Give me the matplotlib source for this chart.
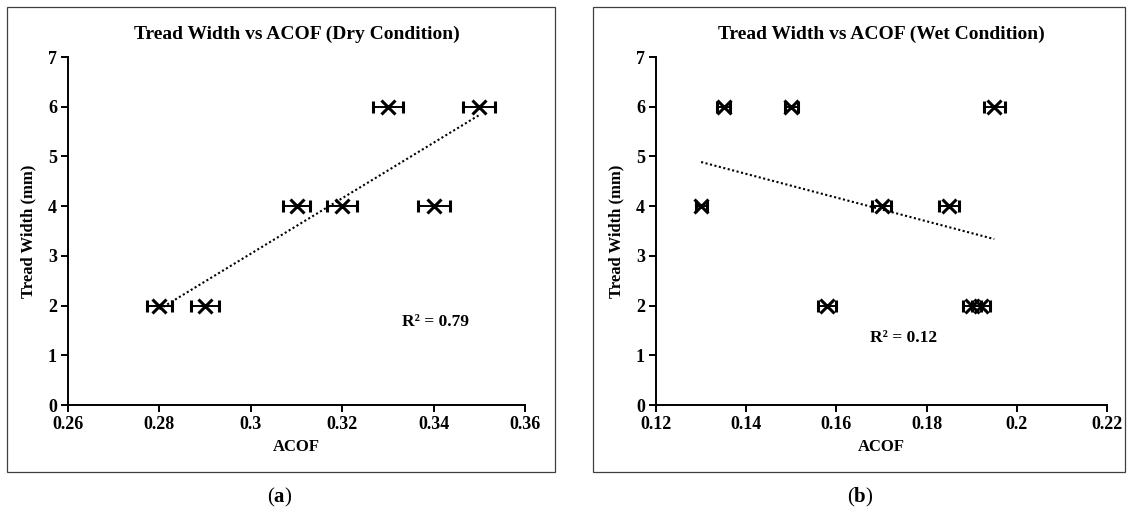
import numpy as np
import matplotlib
matplotlib.use("Agg")
import matplotlib.pyplot as plt
from matplotlib.patches import Rectangle

plt.rcParams['font.family'] = ['Liberation Serif', 'DejaVu Serif']
plt.rcParams['font.weight'] = 'bold'
plt.rcParams['mathtext.fontset'] = 'custom'
plt.rcParams['mathtext.bf'] = 'Liberation Serif:bold'
plt.rcParams['mathtext.rm'] = 'Liberation Serif'

# dry condition
dry_acof = [0.28, 0.29, 0.31, 0.32, 0.34, 0.33, 0.35]
dry_width = [2, 2, 4, 4, 4, 6, 6]
dry_err = [0.0028, 0.003, 0.003, 0.0033, 0.0035, 0.0033, 0.0035]
dry_r2 = "R² = 0.79"

# wet condition
wet_acof = [0.135, 0.15, 0.195, 0.13, 0.17, 0.185, 0.158, 0.19, 0.192]
wet_width = [6, 6, 6, 4, 4, 4, 2, 2, 2]
wet_err = [0.0015, 0.0015, 0.0023, 0.0012, 0.002, 0.0022, 0.002, 0.002, 0.002]
wet_r2 = "R² = 0.12"

dry_xticks = [0.26, 0.28, 0.30, 0.32, 0.34, 0.36]
dry_xlabels = ["0.26", "0.28", "0.3", "0.32", "0.34", "0.36"]
wet_xticks = [0.12, 0.14, 0.16, 0.18, 0.20, 0.22]
wet_xlabels = ["0.12", "0.14", "0.16", "0.18", "0.2", "0.22"]
yticks = [0, 1, 2, 3, 4, 5, 6, 7]

W, H = 1129, 520
fig = plt.figure(figsize=(W / 100, H / 100), dpi=100)

# panel frames
for x0, x1 in [(7, 555), (593, 1125)]:
    fig.patches.append(Rectangle((x0 / W, 1 - 472 / H), (x1 - x0) / W, 465 / H,
                                 transform=fig.transFigure, fill=False,
                                 edgecolor='#404040', linewidth=0.9))


def panel(left, right, xs, ys, err, xticks, xlabels, title, r2, r2pos, letter, letter_x):
    ax = fig.add_axes([left / W, 1 - 405 / H, (right - left) / W, (405 - 57) / H])
    ax.errorbar(xs, ys, xerr=err, fmt='x', color='black', ms=9.5, mew=2.2,
                ecolor='black', elinewidth=1.4, capsize=4.5, capthick=1.4)
    k, b = np.polyfit(xs, ys, 1)
    fx = np.array([min(xs), max(xs)])
    ax.plot(fx, k * fx + b, linestyle=(0, (1, 1.2)), color='black', linewidth=1.5)
    ax.set_xlim(xticks[0], xticks[-1])
    ax.set_ylim(0, 7)
    ax.set_xticks(xticks)
    ax.set_xticklabels(xlabels)
    ax.set_yticks(yticks)
    for s in ['top', 'right']:
        ax.spines[s].set_visible(False)
    for s in ['left', 'bottom']:
        ax.spines[s].set_linewidth(1.4)
    ax.tick_params(direction='out', length=5, width=1.4, labelsize=13, pad=3)
    ax.set_xlabel("ACOF", fontsize=12, fontweight='bold', labelpad=4)
    ax.set_ylabel("Tread Width (mm)", fontsize=12, fontweight='bold', labelpad=8)
    ax.set_title(title, fontsize=14, fontweight='bold', pad=13)
    ax.text(r2pos[0], r2pos[1], r2, fontsize=12.5, fontweight='bold', ha='center', va='center')
    fig.text(letter_x / W, 1 - 497 / H, "(" + r"$\mathbf{" + letter + "}$" + ")",
             fontsize=15, fontweight='normal', ha='center', va='center')
    return ax


panel(68, 525, dry_acof, dry_width, dry_err, dry_xticks, dry_xlabels,
      "Tread Width vs ACOF (Dry Condition)", dry_r2, (0.3405, 1.67), "a", 280)
panel(656, 1107, wet_acof, wet_width, wet_err, wet_xticks, wet_xlabels,
      "Tread Width vs ACOF (Wet Condition)", wet_r2, (0.1748, 1.35), "b", 860)

fig.savefig("out.png", dpi=100)
